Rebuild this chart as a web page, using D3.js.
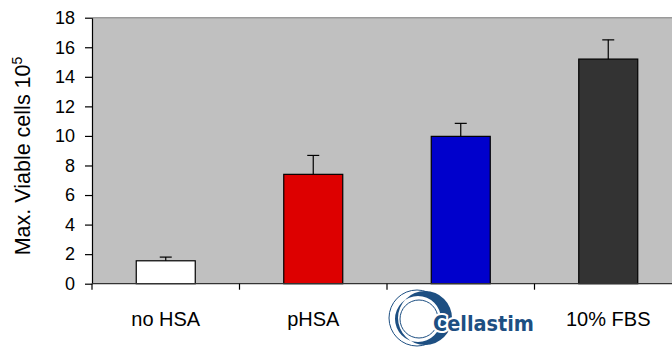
<!DOCTYPE html>
<html lang="en">
<head>
<meta charset="UTF-8">
<title>Max. Viable cells</title>
<script src="https://d3js.org/d3.v7.min.js"></script>
<style>
  body { margin: 0; background: #fff; }
  svg { display: block; font-family: Arial, "Liberation Sans", sans-serif; }
</style>
</head>
<body>
<svg width="672" height="347"></svg>
<script>
// data
const categories = ["no HSA", "pHSA", "Cellastim", "10% FBS"];
const means = [1.55, 7.4, 9.97, 15.2];
const errors = [0.25, 1.28, 0.88, 1.3];
const barColors = ["#ffffff", "#dd0000", "#0000cc", "#333333"];
const yTicks = [0, 2, 4, 6, 8, 10, 12, 14, 16, 18];

const svg = d3.select("svg");
const plotLeft = 92, plotRight = 682, plotTop = 17.7, plotBottom = 283.7;

const x = d3.scaleBand().domain(categories).range([plotLeft, plotRight]).padding(0);
const y = d3.scaleLinear().domain([0, 18]).range([plotBottom, plotTop]);

// plot area
svg.append("rect")
    .attr("x", plotLeft).attr("y", plotTop)
    .attr("width", plotRight - plotLeft).attr("height", plotBottom - plotTop)
    .style("fill", "#c0c0c0");
svg.append("line")
    .attr("x1", plotLeft).attr("x2", plotRight).attr("y1", plotTop).attr("y2", plotTop)
    .style("stroke", "#9a9a9a").style("stroke-width", 1.5);

// bars
const barW = x.bandwidth() * 0.4;
svg.append("g").selectAll("rect")
    .data(categories)
    .enter().append("rect")
    .attr("x", d => x(d) + (x.bandwidth() - barW) / 2)
    .attr("y", (d, i) => y(means[i]))
    .attr("width", barW)
    .attr("height", (d, i) => y(0) - y(means[i]))
    .style("fill", (d, i) => barColors[i])
    .style("stroke", "#000")
    .style("stroke-width", 1.2);

// error bars (upper only)
const err = svg.append("g").style("stroke", "#000").style("stroke-width", 1.2);
categories.forEach((c, i) => {
    const cx = x(c) + x.bandwidth() / 2;
    err.append("line")
        .attr("x1", cx).attr("x2", cx)
        .attr("y1", y(means[i])).attr("y2", y(means[i] + errors[i]));
    err.append("line")
        .attr("x1", cx - 6).attr("x2", cx + 6)
        .attr("y1", y(means[i] + errors[i])).attr("y2", y(means[i] + errors[i]));
});

// y axis
const yAxis = svg.append("g")
    .attr("transform", `translate(${plotLeft},0)`)
    .call(d3.axisLeft(y).tickValues(yTicks).tickSize(7).tickPadding(10).tickSizeOuter(0));
yAxis.select(".domain").style("stroke", "#000").style("stroke-width", 1.2);
yAxis.selectAll(".tick line").style("stroke", "#000").style("stroke-width", 1.2);
yAxis.selectAll("text").style("font-size", "18px").style("font-family", "Arial, 'Liberation Sans', sans-serif").attr("fill", "#000");

// x axis: ticks at category boundaries
const xAxis = svg.append("g");
xAxis.append("line")
    .attr("x1", plotLeft).attr("x2", plotRight).attr("y1", plotBottom).attr("y2", plotBottom)
    .style("stroke", "#333").style("stroke-width", 1.2);
xAxis.selectAll("line.tk")
    .data(categories)
    .enter().append("line")
    .attr("class", "tk")
    .attr("x1", d => x(d)).attr("x2", d => x(d))
    .attr("y1", plotBottom).attr("y2", plotBottom + 6)
    .style("stroke", "#000").style("stroke-width", 1.2);

xAxis.selectAll("text")
    .data(categories.filter(d => d !== "Cellastim"))
    .enter().append("text")
    .attr("x", d => x(d) + x.bandwidth() / 2)
    .attr("y", 326)
    .attr("text-anchor", "middle")
    .style("font-size", "20px")
    .text(d => d);

// Cellastim logo in place of the third label
const logo = svg.append("g");
const lx = x("Cellastim") + 34, ly = 318;
logo.append("path")
    .attr("d", `M${lx + 4},${ly} m-27,0 a27,27 0 1,0 54,0 a27,27 0 1,0 -54,0 Z ` +
               `M${lx - 3},${ly + 1} m-23,0 a23,23 0 1,0 46,0 a23,23 0 1,0 -46,0 Z`)
    .attr("fill-rule", "evenodd")
    .style("fill", "#1d4f82");
logo.append("circle")
    .attr("cx", lx - 2).attr("cy", ly + 1).attr("r", 19)
    .style("fill", "none").style("stroke", "#1d4f82").style("stroke-width", 1);
logo.append("circle")
    .attr("cx", lx - 4).attr("cy", ly).attr("r", 28)
    .style("fill", "none").style("stroke", "#1d4f82").style("stroke-width", 1);
logo.append("text")
    .attr("x", lx + 12).attr("y", 331)
    .attr("textLength", 101)
    .attr("lengthAdjust", "spacingAndGlyphs")
    .style("font-family", "'DejaVu Sans Condensed', 'DejaVu Sans', sans-serif")
    .style("font-weight", "bold")
    .style("font-size", "21px")
    .style("fill", "#1d4f82")
    .style("stroke", "#fff").style("stroke-width", 4)
    .style("paint-order", "stroke")
    .text("Cellastim");

// y title
const yt = svg.append("text")
    .attr("transform", "translate(30,156) rotate(-90)")
    .attr("text-anchor", "middle")
    .style("font-size", "21.5px");
yt.append("tspan").text("Max. Viable cells 10");
yt.append("tspan").attr("dy", -8).style("font-size", "14px").text("5");
</script>
</body>
</html>
